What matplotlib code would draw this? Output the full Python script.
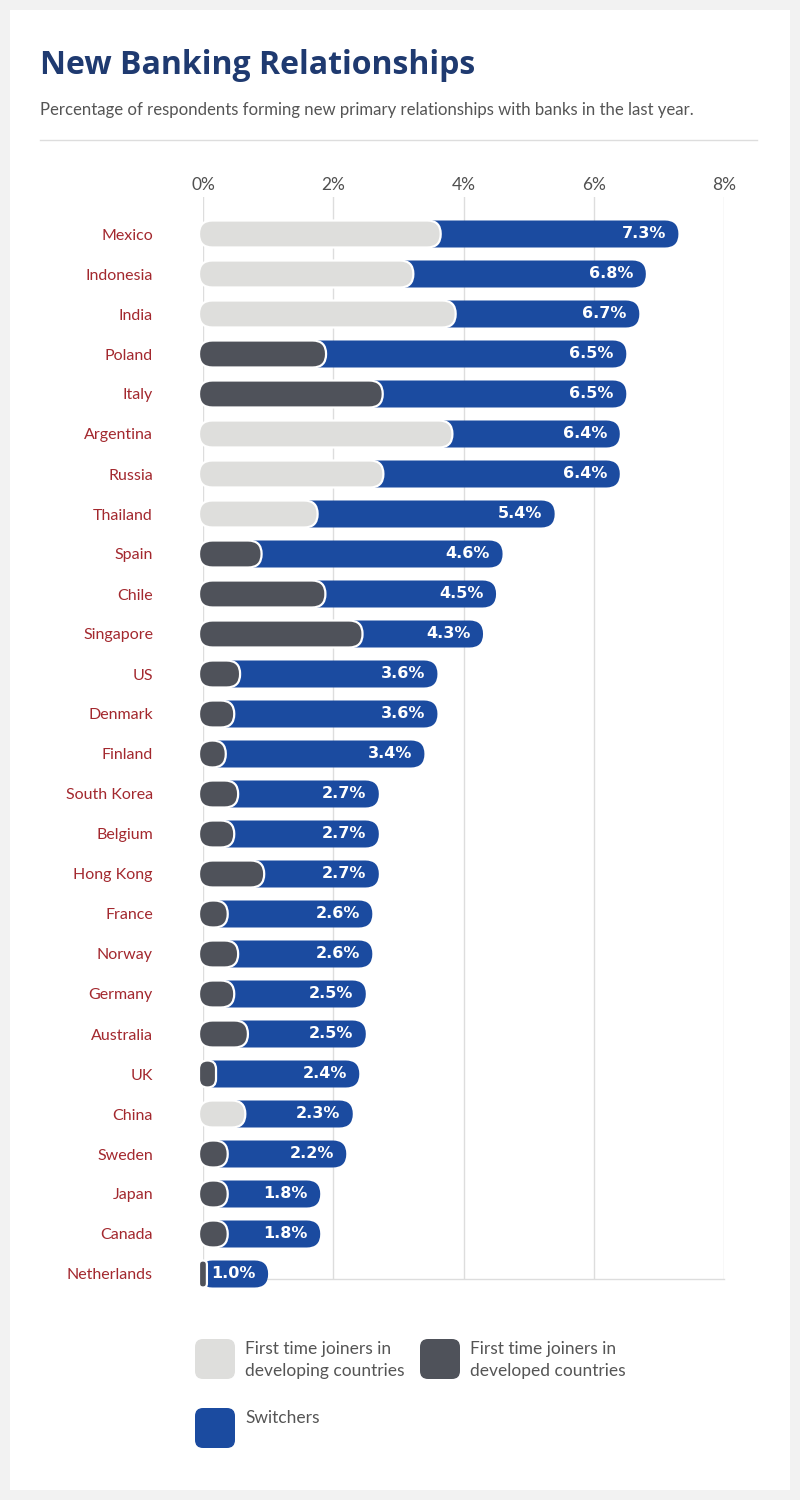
import matplotlib.pyplot as plt
from matplotlib.patches import FancyBboxPatch, Rectangle
from matplotlib.lines import Line2D

countries = ['Mexico', 'Indonesia', 'India', 'Poland', 'Italy', 'Argentina', 'Russia',
             'Thailand', 'Spain', 'Chile', 'Singapore', 'US', 'Denmark', 'Finland',
             'South Korea', 'Belgium', 'Hong Kong', 'France', 'Norway', 'Germany',
             'Australia', 'UK', 'China', 'Sweden', 'Japan', 'Canada', 'Netherlands']
totals = [7.3, 6.8, 6.7, 6.5, 6.5, 6.4, 6.4, 5.4, 4.6, 4.5, 4.3, 3.6, 3.6, 3.4,
          2.7, 2.7, 2.7, 2.6, 2.6, 2.5, 2.5, 2.4, 2.3, 2.2, 1.8, 1.8, 1.0]
first_time = [3.65, 3.23, 3.88, 1.89, 2.76, 3.83, 2.77, 1.76, 0.9, 1.88, 2.45, 0.57,
              0.48, 0.35, 0.54, 0.48, 0.94, 0.38, 0.54, 0.48, 0.69, 0.2, 0.65, 0.38,
              0.38, 0.38, 0.06]
# True = developing country (light grey), False = developed (dark grey)
developing = [True, True, True, False, False, True, True, True, False, False, False,
              False, False, False, False, False, False, False, False, False, False,
              False, True, False, False, False, False]
ticks = [0, 2, 4, 6, 8]

LIGHT = '#dededc'
DARK = '#4f525a'
BLUE = '#1b4ba0'
RED = '#a3282e'

W, H = 800, 1500
fig = plt.figure(figsize=(8, 15), dpi=100)
fig.patch.set_facecolor('#f2f2f2')
fig.add_artist(Rectangle((10 / W, 10 / H), 780 / W, 1480 / H, transform=fig.transFigure,
                         facecolor='white', edgecolor='none', zorder=0))

fig.text(40 / W, 1 - 66 / H, 'New Banking Relationships', fontsize=23, fontweight='bold',
         color='#1f3a70', family='Open Sans', va='center')
fig.text(40 / W, 1 - 110 / H, 'Percentage of respondents forming new primary relationships with banks in the last year.',
         fontsize=12.1, color='#555555', family='Lato', va='center')
fig.add_artist(Line2D([40 / W, 757 / W], [1 - 140 / H] * 2, transform=fig.transFigure,
                      color='#dddddd', lw=1))

ax = fig.add_axes([203 / W, 1 - 1279 / H, 521 / W, 1082 / H])
ax.set_xlim(0, 8)
ax.set_ylim(26.125, -0.925)
for s in ['top', 'left', 'right']:
    ax.spines[s].set_visible(False)
ax.spines['bottom'].set_color('#dddddd')
ax.spines['bottom'].set_linewidth(1)
ax.set_xticks(ticks)
ax.set_xticklabels([f'{t}%' for t in ticks], family='Lato', fontsize=12.5, color='#505050')
ax.xaxis.tick_top()
ax.tick_params(axis='x', length=0, pad=3)
ax.grid(axis='x', color='#dddddd', lw=1)
ax.set_axisbelow(True)
ax.set_yticks(range(len(countries)))
ax.set_yticklabels(countries, family='Lato', fontsize=11.5, color=RED)
ax.tick_params(axis='y', length=0, pad=36)

px_x = 521 / 8
px_y = 1082 / 27.05
aspect = px_x / px_y
bh = 27 / px_y
r = 13.5 / px_x
x0 = -4 / px_x


def rbar(y, start, end, color, **kw):
    w = end - start
    rs = min(r, w / 2)
    p = FancyBboxPatch((start, y - bh / 2), w, bh,
                       boxstyle=f'round,pad=0,rounding_size={rs}',
                       mutation_aspect=aspect, facecolor=color, clip_on=False, **kw)
    ax.add_patch(p)


for i, (tot, ft, dev) in enumerate(zip(totals, first_time, developing)):
    rbar(i, x0, tot, BLUE, edgecolor='none', zorder=3)
    rbar(i, x0, ft, LIGHT if dev else DARK, edgecolor='white', linewidth=1.6, zorder=4)
    ax.annotate(f'{tot:.1f}%', (tot, i), xytext=(-9, 0), textcoords='offset points',
                ha='right', va='center', color='white', fontsize=11.5, fontweight='bold',
                family='DejaVu Sans', zorder=5)

# legend
legend_items = [(195, 1339, LIGHT, 'First time joiners in\ndeveloping countries'),
                (420, 1339, DARK, 'First time joiners in\ndeveloped countries'),
                (195, 1408, BLUE, 'Switchers')]
for lx, ly, col, lab in legend_items:
    fig.add_artist(FancyBboxPatch((lx / W, 1 - (ly + 40) / H), 40 / W, 40 / H,
                                  boxstyle=f'round,pad=0,rounding_size={8 / W}',
                                  mutation_aspect=W / H, transform=fig.transFigure,
                                  facecolor=col, edgecolor='none'))
    fig.text((lx + 50) / W, 1 - (ly + 2) / H, lab, fontsize=12.5, color='#555555',
             family='Lato', va='top', linespacing=1.45)

fig.savefig('out.png', dpi=100, facecolor=fig.get_facecolor())
